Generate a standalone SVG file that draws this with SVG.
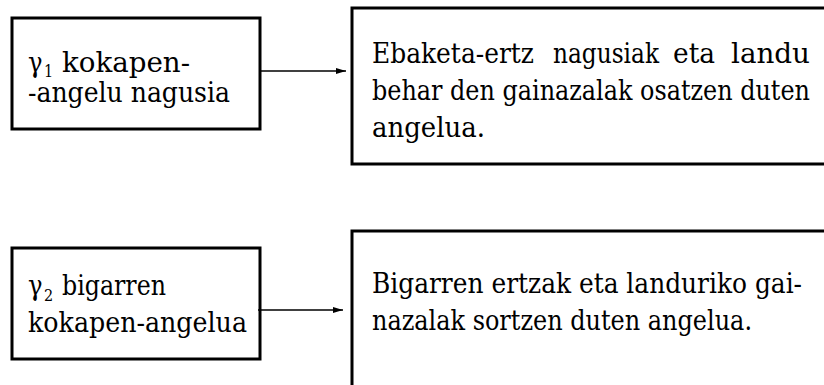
<svg xmlns="http://www.w3.org/2000/svg" width="824" height="385" viewBox="0 0 824 385">
  <style>
    .box { fill: #fff; stroke: #000; stroke-width: 3; }
    text { font-family: "DejaVu Serif Condensed", "DejaVu Serif", serif; font-stretch: condensed; font-size: 27px; fill: #000; }
    text.sub { font-size: 16px; }
    .conn { stroke: #000; stroke-width: 1.6; fill: none; }
  </style>
  <defs>
    <marker id="arrow" viewBox="0 0 10 6" refX="10" refY="3" markerWidth="10" markerHeight="6" markerUnits="userSpaceOnUse" orient="auto">
      <path d="M0,0 L10,3 L0,6 Z" fill="#000"/>
    </marker>
  </defs>

  <g id="node-gamma1">
    <rect class="box" x="12" y="18" width="248" height="111"/>
    <text x="28" y="72">γ</text>
    <text class="sub" x="44" y="77">1</text>
    <text x="62" y="72" textLength="128" lengthAdjust="spacingAndGlyphs">kokapen-</text>
    <text x="28" y="102" textLength="202" lengthAdjust="spacingAndGlyphs">-angelu nagusia</text>
  </g>

  <g id="node-def1">
    <path class="box" d="M826,8 H352 V164 H826"/>
    <text y="63"><tspan x="372" textLength="162" lengthAdjust="spacingAndGlyphs">Ebaketa-ertz</tspan><tspan x="553" textLength="106" lengthAdjust="spacingAndGlyphs">nagusiak</tspan><tspan x="673" textLength="42" lengthAdjust="spacingAndGlyphs">eta</tspan><tspan x="731" textLength="79" lengthAdjust="spacingAndGlyphs">landu</tspan></text>
    <text y="100" textLength="438" lengthAdjust="spacingAndGlyphs" x="372">behar den gainazalak osatzen duten</text>
    <text x="372" y="137" textLength="113" lengthAdjust="spacingAndGlyphs">angelua.</text>
  </g>

  <g id="node-gamma2">
    <rect class="box" x="12" y="248" width="248" height="111"/>
    <text x="28" y="295">γ</text>
    <text class="sub" x="44" y="301">2</text>
    <text x="62" y="295" textLength="104" lengthAdjust="spacingAndGlyphs">bigarren</text>
    <text x="28" y="332" textLength="219" lengthAdjust="spacingAndGlyphs">kokapen-angelua</text>
  </g>

  <g id="node-def2">
    <path class="box" d="M826,231 H352 V388"/>
    <text x="372" y="293" textLength="430" lengthAdjust="spacingAndGlyphs">Bigarren ertzak eta landuriko gai-</text>
    <text x="372" y="330" textLength="380" lengthAdjust="spacingAndGlyphs">nazalak sortzen duten angelua.</text>
  </g>

  <g id="connectors">
    <line class="conn" x1="261" y1="71" x2="346" y2="71" marker-end="url(#arrow)"/>
    <line class="conn" x1="258" y1="310" x2="343" y2="310" marker-end="url(#arrow)"/>
  </g>
</svg>
